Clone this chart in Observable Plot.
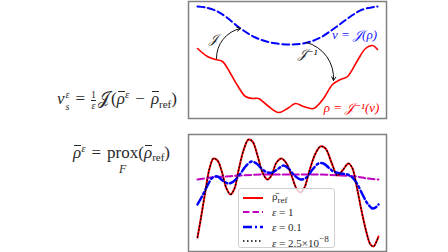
<!DOCTYPE html>
<html><head><meta charset="utf-8">
<script src="https://cdn.jsdelivr.net/npm/d3@7"></script>
<script src="https://cdn.jsdelivr.net/npm/@observablehq/plot@0.6"></script>
<style>
body{margin:0;background:#fff;}
#wrap{position:relative;width:448px;height:252px;overflow:hidden;font-family:"Liberation Serif","DejaVu Serif",serif;color:#2a2a2a;}
.panel{position:absolute;left:187px;width:200px;height:119px;}
#top{top:0px}
#bot{top:133px}
.eq{position:absolute;font-size:17px;white-space:nowrap;line-height:1;}
.eq i{font-style:italic}
.op{margin:0 6px}
.bar{display:inline-block;position:relative;font-style:italic}
.bar::before{content:"";position:absolute;left:1px;right:0px;top:1px;border-top:1px solid #2a2a2a;}
.ss{display:inline-block;vertical-align:middle;line-height:1.15;font-size:10px;margin-left:1px}
.ss span{display:block;font-style:italic}
.frac{display:inline-block;vertical-align:middle;font-size:10px;line-height:1.05;text-align:center;margin:0 2px 0 0}
.frac span{display:block}
.frac span:first-child{border-bottom:0.6px solid #2a2a2a}
.sup{font-size:11px;vertical-align:0.55em;font-style:italic}
.sub{font-size:11px;vertical-align:-0.3em}
.cal{font-family:"DejaVu Sans","DejaVu Serif",serif;margin-right:1px}
.prox{display:inline-block;position:relative}
.prox .F{position:absolute;left:0;right:0;top:19px;text-align:center;font-size:12px;font-style:italic}
#legend{position:absolute;left:238px;top:188px;width:97px;height:60px;border:1px solid #cfcfcf;border-radius:3px;background:rgba(255,255,255,0.8);z-index:5;box-sizing:border-box;}
.lr{position:absolute;left:4px;height:14px;display:flex;align-items:center;font-size:11px;color:#2a2a2a;}
.lr svg{margin-right:9px}
</style></head>
<body><div id="wrap">
<div class="eq" id="eq1" style="left:57px;top:89px"><i>v</i><span class="ss"><span>ε</span><span>s</span></span><span class="op">=</span><span class="frac"><span>1</span><span><i>ε</i></span></span><span class="cal">𝒥</span>(<span class="bar">ρ</span><span class="sup">ε</span><span class="op">−</span><span class="bar">ρ</span><span class="sub">ref</span>)</div>
<div class="eq" id="eq2" style="left:73px;top:143px"><span class="bar">ρ</span><span class="sup">ε</span><span class="op">=</span><span class="prox">prox<span class="F">F</span></span>(<span class="bar">ρ</span><span class="sub">ref</span>)</div>
<div class="panel" id="top"></div>
<div class="panel" id="bot"></div>
<div id="legend"></div>
</div>
<script>
// ---- top panel (schematic) ----
const topBlueX = [9,17,27,37,52,67,82,102,119,132,147,162,174,189];
const topBlueY = [112,111,108,102,90,81,76,74,76,81,91,102,109,112];
const topRedX = [9,19,27,34,42,49,57,64,70,79,90,99,107,115,125,135,144,152,159,169,177,184,189];
const topRedY = [70,62,59,57,45,33,22,20,20,13,6,10,15,12,10,20,34,39,42,58,70,73,69];
const arrowFromX = [28,118], arrowFromY = [60,76];
const arrowToX = [52,145], arrowToY = [90,38];
const topLabels = ["𝒥","𝒥⁻¹","v = 𝒥(ρ)","ρ = 𝒥⁻¹(v)"];
const topLabelX = [25,119,166,163], topLabelY = [80,65,84,11];
const topLabelColor = ["#222","#222","#2020ff","#ff0000"];

// ---- bottom panel ----
const refX = [9,12,17,21,25,29,33,38,42,46,50,55,60,64,69,74,79,83,88,93,98,103,108,112,116,121,127,132,137,143,149,154,160,164,168,173,178,182,185,188,190];
const refY = [14,31,61,83,93,91,81,63,57,63,81,101,112,110,96,79,72,76,89,93,88,76,63,59,64,81,98,105,103,89,76,81,88,83,66,41,19,7,5,10,15];
const eps1X = [9,22,37,52,72,92,112,132,152,167,179,190];
const eps1Y = [72,74,75,76,77,77,77,77,76,75,73,72];
const eps01X = [9,14,19,24,29,34,40,45,52,57,63,68,74,79,84,90,95,100,106,112,118,124,130,135,140,145,152,159,164,169,174,179,184,187,190];
const eps01Y = [47,56,66,74,75,71,68,70,78,85,90,88,82,79,79,83,86,83,76,72,74,82,88,88,84,80,78,77,74,67,57,48,43,44,47];
const epsTinyX = refX;
const epsTinyY = [14,31,61,83,93,91,81,63,57,63,81,101,112,110,96,79,72,76,89,93,88,76,63,59,64,81,98,105,103,89,76,81,88,83,66,41,19,7,5,10,15];
const legendLabels = ["ρ̄<sub>ref</sub>","<i>ε</i> = 1","<i>ε</i> = 0.1","<i>ε</i> = 2.5×10<sup>−8</sup>"];

const zip = (xs, ys) => xs.map((x, i) => ({x, y: ys[i]}));
const base = {width:200, height:119, margin:1, x:{domain:[0,198], axis:null}, y:{domain:[0,117], axis:null}, style:{background:"transparent", overflow:"visible"}};

const topPlot = Plot.plot({...base, marks:[
  Plot.frame({stroke:"#808080", strokeWidth:1.5}),
  Plot.line(zip(topBlueX, topBlueY), {x:"x", y:"y", stroke:"#0000ff", strokeWidth:2, strokeDasharray:"7,3.5", curve:"catmull-rom"}),
  Plot.line(zip(topRedX, topRedY), {x:"x", y:"y", stroke:"#ff0000", strokeWidth:1.6, curve:"catmull-rom"}),
  Plot.arrow(arrowFromX.map((x,i)=>({x1:x,y1:arrowFromY[i],x2:arrowToX[i],y2:arrowToY[i]})), {x1:"x1",y1:"y1",x2:"x2",y2:"y2", bend:40, stroke:"#111", strokeWidth:1, headLength:6}),
  Plot.text(topLabels.map((t,i)=>({t, x:topLabelX[i], y:topLabelY[i], c:topLabelColor[i]})), {x:"x", y:"y", text:"t", fill:"c", fontSize:13, fontStyle:"italic", fontFamily:"Liberation Serif, DejaVu Serif, serif"})
]});
document.getElementById("top").append(topPlot);

const botPlot = Plot.plot({...base, marks:[
  Plot.frame({stroke:"#808080", strokeWidth:1.5}),
  Plot.line(zip(refX, refY), {x:"x", y:"y", stroke:"#ff0000", strokeWidth:2, curve:"catmull-rom"}),
  Plot.line(zip(eps1X, eps1Y), {x:"x", y:"y", stroke:"#bf00bf", strokeWidth:2, strokeDasharray:"6.5,3", curve:"catmull-rom"}),
  Plot.line(zip(eps01X, eps01Y), {x:"x", y:"y", stroke:"#0000ff", strokeWidth:2.5, strokeDasharray:"9,3,2,3", curve:"catmull-rom"}),
  Plot.line(zip(epsTinyX, epsTinyY), {x:"x", y:"y", stroke:"#000", strokeWidth:1.2, strokeDasharray:"1.2,2.4", curve:"catmull-rom"})
]});
document.getElementById("bot").append(botPlot);

const swatches = [
  {stroke:"#ff0000", w:2, dash:null},
  {stroke:"#bf00bf", w:2, dash:"6.5,3"},
  {stroke:"#0000ff", w:2.5, dash:"9,3,2,3"},
  {stroke:"#000", w:1.5, dash:"1.5,2.5"}
];
const leg = document.getElementById("legend");
legendLabels.forEach((lab, i) => {
  const s = swatches[i];
  const row = document.createElement("div");
  row.className = "lr";
  row.style.top = (2 + i*14.3) + "px";
  row.innerHTML = `<svg width="20" height="6"><line x1="0" y1="3" x2="20" y2="3" stroke="${s.stroke}" stroke-width="${s.w}" ${s.dash?`stroke-dasharray="${s.dash}"`:""}/></svg><span>${lab}</span>`;
  leg.append(row);
});
</script>
</body></html>
